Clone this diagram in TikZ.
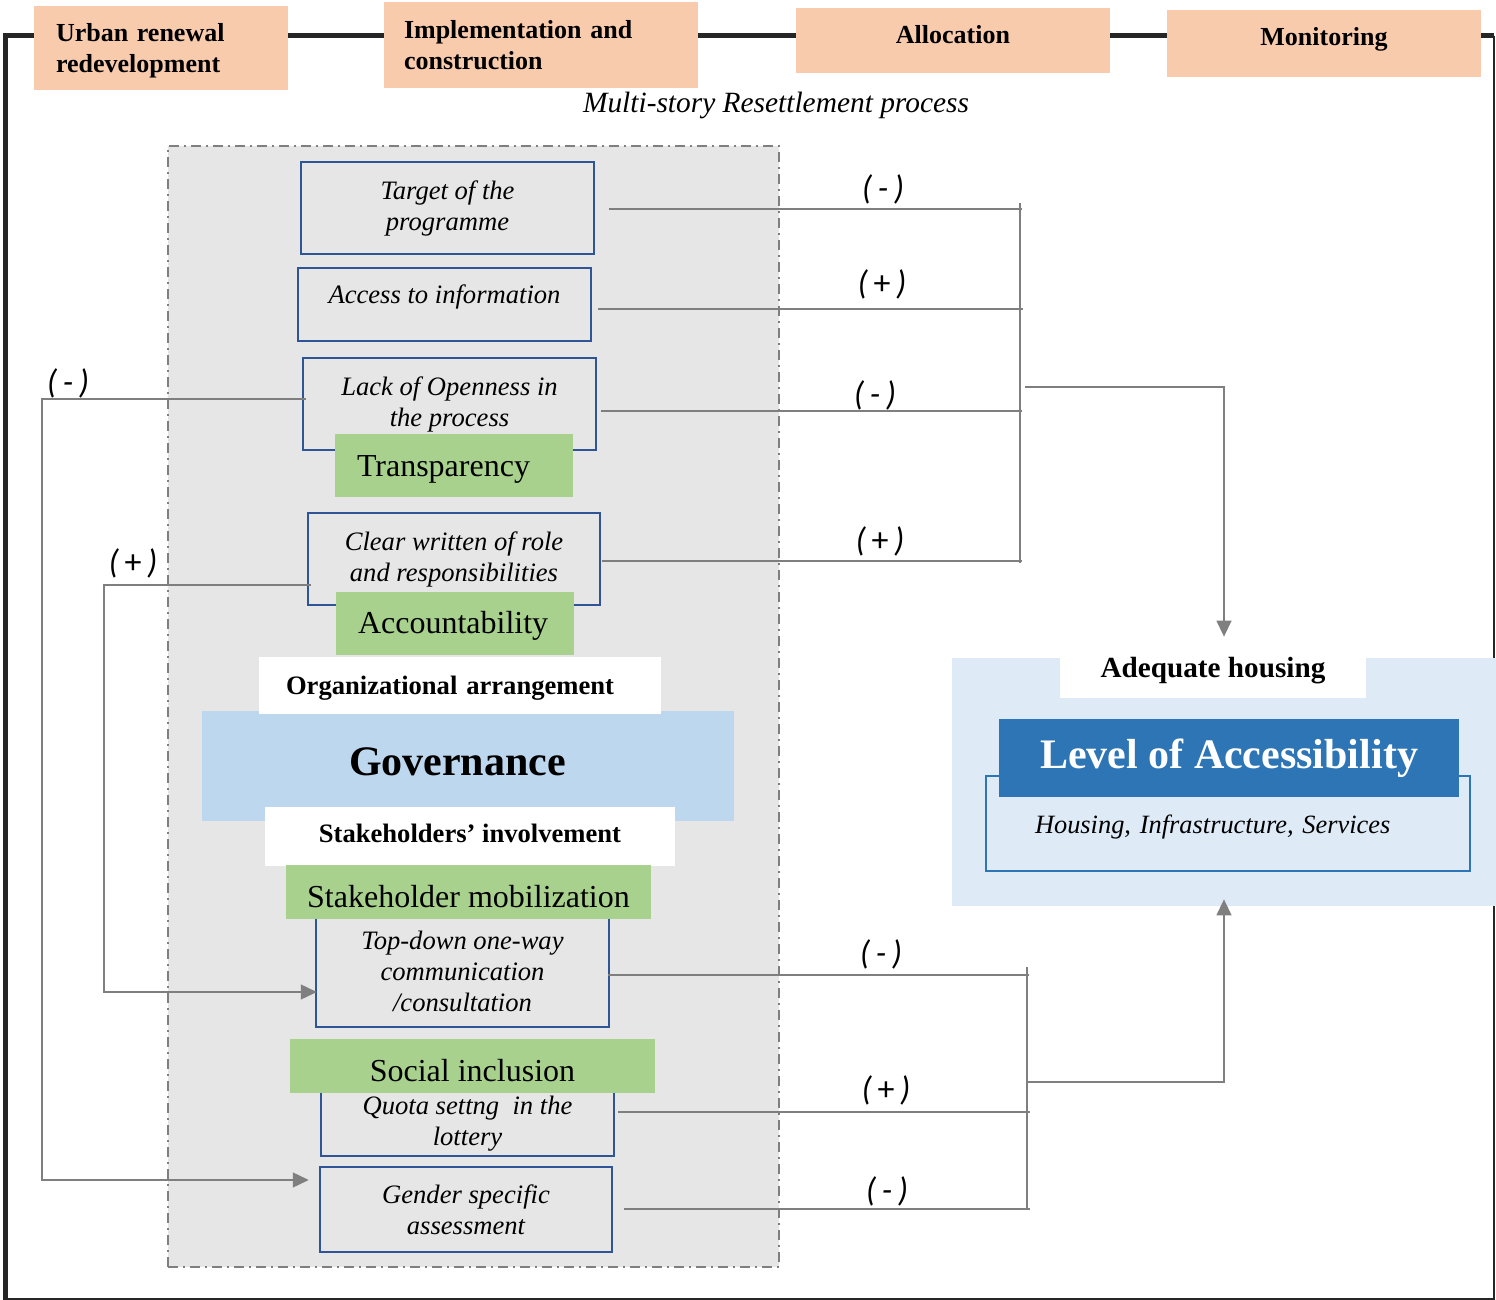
\documentclass[tikz,border=0pt]{standalone}
\usepackage{fontspec}
\setmainfont{Liberation Serif}
\newfontfamily\signfont{Carlito}
\usetikzlibrary{arrows.meta}

\definecolor{peach}{HTML}{F8CBAD}
\definecolor{leaf}{HTML}{A9D18E}
\definecolor{govblue}{HTML}{BDD7EE}
\definecolor{paleblue}{HTML}{DEEAF6}
\definecolor{accblue}{HTML}{2E75B6}
\definecolor{boxblue}{HTML}{2F5597}
\definecolor{panelgray}{HTML}{E6E6E6}
\definecolor{linkgray}{HTML}{7F7F7F}
\definecolor{framegray}{HTML}{262626}

\tikzset{
  hdr/.style={fill=peach, inner sep=0pt, font=\bfseries\fontsize{13}{15.5}\selectfont},
  factor/.style={draw=boxblue, line width=1.25pt, inner sep=0pt, align=center,
                 font=\itshape\fontsize{13.3}{15.5}\selectfont},
  dimension/.style={fill=leaf, inner sep=0pt, font=\fontsize{16}{19}\selectfont},
  band/.style={fill=white, inner sep=0pt, font=\bfseries\fontsize{13.3}{16}\selectfont},
  conn/.style={draw=linkgray, line width=0.7pt},
  arr/.style={conn, -{Triangle[length=8pt,width=7.5pt]}},
  sign/.style={inner sep=0pt, font=\signfont\itshape\fontsize{17}{20}\selectfont},
}

\begin{document}
\begin{tikzpicture}[x=0.5pt,y=-0.5pt]
\useasboundingbox (0,0) rectangle (1496,1300);

% outer frame of the resettlement process
\draw[framegray, line width=2.5pt] (1494,36) -- (5.5,36) -- (5.5,1300);
\draw[framegray, line width=0.8pt] (1494,36) -- (1494,1299) -- (5.5,1299);

% process stages
\node[hdr, minimum width=127pt, text height=18pt, text depth=24pt, text width=105pt, inner xsep=11pt, align=left]
  (urban) at (161,48) {Urban renewal\\redevelopment};
\node[hdr, minimum width=157pt, minimum height=43pt, text width=137pt, inner xsep=10pt, align=left]
  (impl) at (541,45) {Implementation and\\construction};
\node[hdr, minimum width=157pt, text height=18pt, text depth=14.5pt]
  (alloc) at (953,40.5) {Allocation};
\node[hdr, minimum width=157pt, text height=18pt, text depth=15.5pt]
  (monit) at (1324,43.5) {Monitoring};

\node[font=\itshape\fontsize{14.7}{17}\selectfont, inner sep=0pt] (proc) at (776,105)
  {Multi-story Resettlement process};

% governance panel
\node[fill=panelgray, draw=linkgray, line width=1pt,
      dash pattern=on 5pt off 2.5pt on 1pt off 2.5pt,
      minimum width=305.5pt, minimum height=560.5pt, inner sep=0pt] (panel) at (473.5,706.5) {};

\node[factor, minimum width=146.5pt, minimum height=46pt] (target) at (447.5,208)
  {Target of the\\programme};
\node[factor, minimum width=146.5pt, text height=18pt, text depth=18.5pt] (access) at (444.5,304.5)
  {Access to information};
\node[factor, minimum width=146.5pt, minimum height=46pt] (lack) at (449.5,404)
  {Lack of Openness in\\the process};
\node[factor, minimum width=146pt, minimum height=46pt] (clear) at (454,559)
  {Clear written of role\\and responsibilities};
\node[factor, minimum width=146.5pt, minimum height=55.5pt] (topdown) at (462.5,971.5)
  {Top-down one-way\\communication\\/consultation};
\node[factor, minimum width=146.5pt, minimum height=32pt] (quota) at (467.5,1124)
  {Quota settng\ \ in the\\lottery};
\node[factor, minimum width=146pt, minimum height=42.5pt] (gender) at (466,1209.5)
  {Gender specific\\assessment};

\node[dimension, text height=21.5pt, text depth=10pt, text width=97pt, inner xsep=11pt, align=left]
  (transp) at (454,465.5) {Transparency};
\node[dimension, text height=20.5pt, text depth=11pt, text width=97pt, inner xsep=11pt, align=left]
  (account) at (455,623.5) {Accountability};

\node[fill=govblue, text height=32pt, text depth=23pt, text width=119pt, inner xsep=73.5pt, inner ysep=0pt,
      align=left, font=\bfseries\fontsize{21}{24}\selectfont] (gov) at (468,766) {Governance};
\node[band, text height=18.5pt, text depth=10pt, text width=174pt, inner xsep=13.5pt, align=left]
  (org) at (460,685.5) {Organizational arrangement};
\node[band, minimum width=205pt, text height=17.5pt, text depth=12pt] (stake) at (470,836.5)
  {Stakeholders’ involvement};

\node[dimension, minimum width=182.5pt, text height=21pt, text depth=6pt] (mobil) at (468.5,892)
  {Stakeholder mobilization};
\node[dimension, minimum width=182.5pt, text height=21pt, text depth=6pt] (social) at (472.5,1066)
  {Social inclusion};

% outcome
\node[fill=paleblue, minimum width=272pt, minimum height=124pt, inner sep=0pt]
  (housing) at (1224,782) {};
\node[band, minimum width=153pt, text height=9.5pt, text depth=10.5pt, inner ysep=0pt,
      font=\bfseries\fontsize{14.6}{17}\selectfont] (adeq) at (1213,678) {Adequate housing};
\node[draw=accblue, line width=1pt, text height=28.5pt, text depth=19pt, text width=193pt, inner xsep=24.5pt,
      inner ysep=0pt, align=left, font=\itshape\fontsize{13.2}{16}\selectfont]
  (scope) at (1228,823.5) {Housing, Infrastructure, Services};
\node[fill=accblue, text=white, minimum width=230pt, minimum height=39pt, inner sep=0pt,
      font=\bfseries\fontsize{21}{24}\selectfont] (level) at (1229,758) {Level of Accessibility};

% upper group of links
\coordinate (t1) at (1020,209);
\coordinate (t2) at (1020,309);
\coordinate (t3) at (1020,411);
\coordinate (t4) at (1020,561);
\coordinate (tap1) at (1020,387);
\draw[conn] ([xshift=7pt]target.east |- t1) -- ([xshift=1pt]t1);
\draw[conn] ([xshift=3pt]access.east |- t2) -- ([xshift=1.5pt]t2);
\draw[conn] ([xshift=2pt]lack.east |- t3) -- ([xshift=1pt]t3);
\draw[conn] ([xshift=0.5pt]clear.east |- t4) -- ([xshift=1pt]t4);
\draw[conn] ([yshift=3pt]t1) -- ([yshift=-1pt]t4);
\draw[arr] ([xshift=2.5pt]tap1) -| ([yshift=10.5pt]housing.north);

\node[sign] (s1) at (883,189) {(\,-\,)};
\node[sign] (s2) at (882,284) {(\,{\upshape +}\,)};
\node[sign] (s3) at (875,395) {(\,-\,)};
\node[sign] (s4) at (880,541) {(\,{\upshape +}\,)};

% lower group of links
\coordinate (b1) at (1027,975);
\coordinate (b2) at (1027,1112);
\coordinate (b3) at (1027,1209);
\coordinate (tap2) at (1027,1082);
\draw[conn] ([xshift=-1pt]topdown.east |- b1) -- ([xshift=1pt]b1);
\draw[conn] ([xshift=1.5pt]quota.east |- b2) -- ([xshift=1.5pt]b2);
\draw[conn] ([xshift=5.5pt]gender.east |- b3) -- ([xshift=1.5pt]b3);
\draw[conn] ([yshift=4pt]b1) -- (b3);
\draw[arr] (tap2) -| ([yshift=3.5pt]housing.south);

\node[sign] (s5) at (881,954) {(\,-\,)};
\node[sign] (s6) at (886,1090) {(\,{\upshape +}\,)};
\node[sign] (s7) at (887,1191) {(\,-\,)};

% feedback links on the left
\coordinate (lA) at (42,399);
\coordinate (lB) at (42,1180);
\coordinate (lC) at (104,585);
\coordinate (lD) at (104,992);
\draw[arr] ([xshift=2pt]lack.west |- lA) -- (lA) -- (lB) -- ([xshift=-5pt]gender.west |- lB);
\draw[arr] ([xshift=2pt]clear.west |- lC) -- (lC) -- (lD) -- ([xshift=1pt]topdown.west |- lD);

\node[sign] (s8) at (68,383) {(\,-\,)};
\node[sign] (s9) at (133,563) {(\,{\upshape +}\,)};
\end{tikzpicture}
\end{document}
